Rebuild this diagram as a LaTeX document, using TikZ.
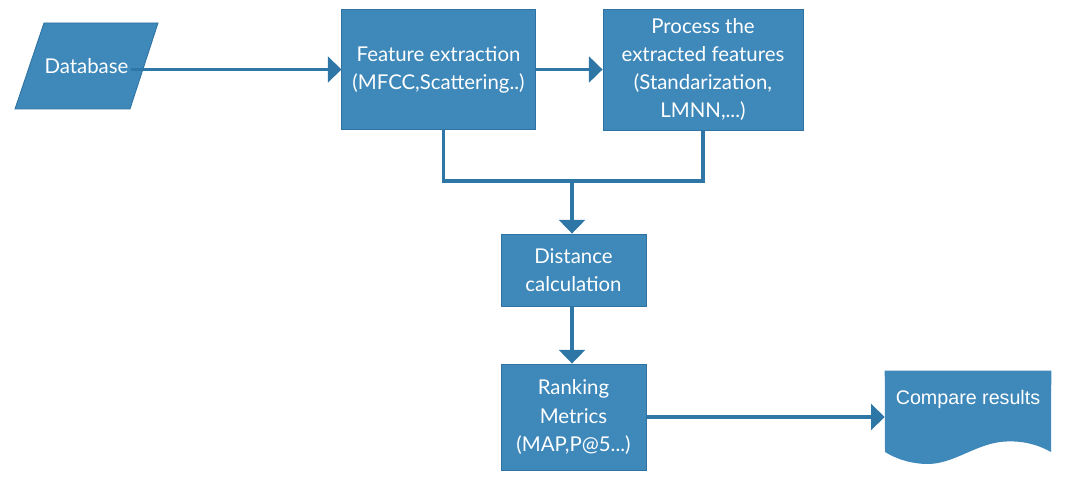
\documentclass[tikz,border=0pt]{standalone}
\usepackage{fontspec}
\setmainfont{Lato}
\newfontfamily\arialfont{Liberation Sans}
\usetikzlibrary{arrows.meta}

\definecolor{boxblue}{HTML}{3E88BA}
\definecolor{boxedge}{HTML}{2F73A2}
\definecolor{linkblue}{HTML}{2E76A5}

\tikzset{
    stepbox/.style={rectangle, fill=boxblue, draw=boxedge, line width=0.6pt,
        text=white, align=center, font=\fontsize{14.5}{20}\selectfont},
    flow/.style={draw=linkblue, line width=2.2pt,
        -{Triangle[width=6.4mm,length=3.4mm]}},
    link/.style={draw=linkblue, line width=2.2pt}
}

\begin{document}
\begin{tikzpicture}[x=0.25mm,y=-0.25mm]
\useasboundingbox (0,0) rectangle (1085,485);

% Database (parallelogram)
\filldraw[fill=boxblue, draw=boxedge, line width=0.6pt]
    (44,23) -- (158,23) -- (130,109) -- (15,109) -- cycle;
\node[text=white, font=\fontsize{14.5}{20}\selectfont, minimum width=22mm,
      minimum height=21.5mm, inner sep=0pt] (DB) at (86.5,66) {Database};

% Blocks
\node[stepbox, minimum width=48.3mm, minimum height=30mm] (FEAT) at (438.5,69.5)
    {Feature extraction\\(MFCC,Scattering..)};
\node[stepbox, minimum width=50mm, minimum height=30.25mm] (PROC) at (703,69.5)
    {Process the\\extracted features\\(Standarization,\\LMNN,...)};
\node[stepbox, minimum width=36.25mm, minimum height=18mm] (DIST) at (573.5,270)
    {Distance\\calculation};
\node[stepbox, minimum width=36.25mm, minimum height=26.5mm] (RANK) at (573.5,417)
    {Ranking\\Metrics\\(MAP,P@5...)};
\node[minimum width=41.5mm, minimum height=20.25mm, inner sep=0pt] (CMP) at (968,411.5) {};

% Document shape
\fill[boxblue] (CMP.north west) -- (CMP.north east) -- (1051,452)
    .. controls (1035,443) and (1018,440) .. (1000,442)
    .. controls (972,446) and (952,465) .. (925,464)
    .. controls (907,463) and (895,458) .. (885,452) -- cycle;
\node[text=white, font=\arialfont\fontsize{14}{17}\selectfont, anchor=north]
    (CMPT) at ([yshift=-3.6mm]CMP.north) {Compare results};

% Connections
\draw[flow] (DB.east |- FEAT.west) -- (FEAT.west);
\draw[flow] (FEAT.east) -- (PROC.west);
\coordinate (MRG) at (572,181);
\draw[link] ([xshift=1.2mm]FEAT.south) |- (MRG) -| (PROC.south);
\draw[flow] (MRG) -- (MRG |- DIST.north);
\draw[flow] (DIST.south -| MRG) -- (MRG |- RANK.north);
\draw[flow] (RANK.east) -- (RANK.east -| CMP.west);
\end{tikzpicture}
\end{document}
